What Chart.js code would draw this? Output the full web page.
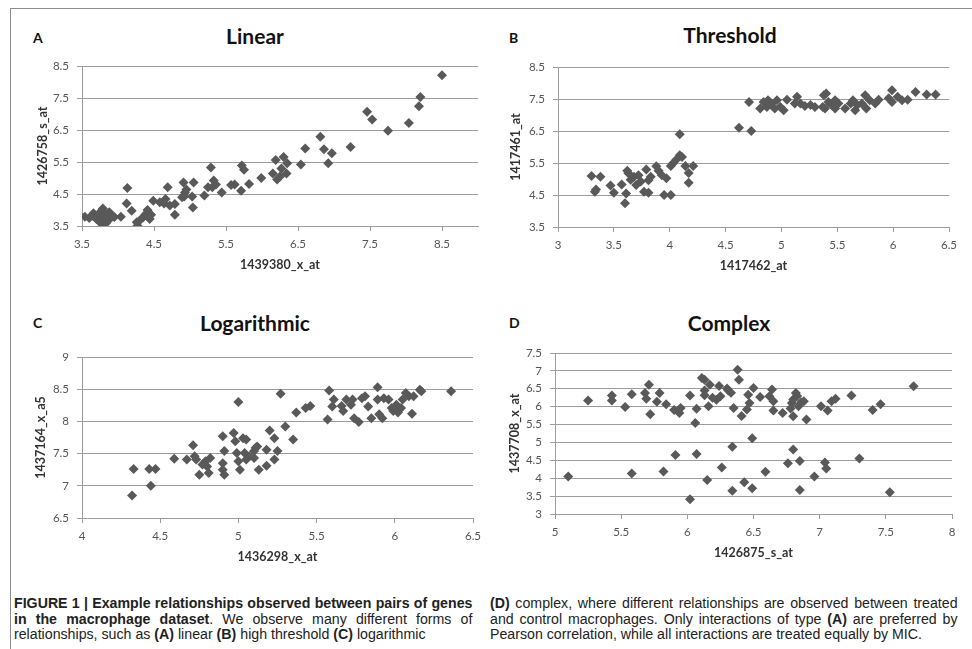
<!DOCTYPE html>
<html>
<head>
<meta charset="utf-8">
<script src="https://cdn.jsdelivr.net/npm/chart.js@4.4.1/dist/chart.umd.min.js"></script>
<style>
  html, body { margin: 0; padding: 0; background: #fff; }
  body { width: 972px; height: 649px; position: relative; overflow: hidden; font-family: Lato, "Liberation Sans", sans-serif; }
  .frame-top { position: absolute; left: 10px; top: 8px; width: 962px; border-top: 1px solid #8c8c8c; }
  .frame-left { position: absolute; left: 10px; top: 8px; height: 641px; border-left: 1px solid #8c8c8c; }
  canvas { position: absolute; }
  .letter { position: absolute; font: bold 14px Lato, sans-serif; color: #111; line-height: 16px; }
  .ptitle { position: absolute; width: 240px; text-align: center; font: bold 21px Lato, sans-serif; color: #111; line-height: 24px; }
  /* caption set in a condensed face: regular sans squeezed horizontally */
  .cap { position: absolute; font-family: "Liberation Sans", Arial, sans-serif; font-size: 15.5px; color: #222; line-height: 15.5px; white-space: nowrap; transform: scaleX(0.915); transform-origin: 0 0; }
  .cap div { height: 15.5px; }
  .just { text-align: justify; text-align-last: justify; }
</style>
</head>
<body>
<div class="frame-top"></div>
<div class="frame-left"></div>

<div class="letter" style="left:33px; top:30px;">A</div>
<div class="ptitle" style="left:135px; top:24px;">Linear</div>
<canvas id="chartA" width="478" height="290" style="left:12px; top:10px;"></canvas>

<div class="letter" style="left:509px; top:30px;">B</div>
<div class="ptitle" style="left:610px; top:23px;">Threshold</div>
<canvas id="chartB" width="480" height="290" style="left:492px; top:10px;"></canvas>

<div class="letter" style="left:33px; top:315px;">C</div>
<div class="ptitle" style="left:135px; top:311px;">Logarithmic</div>
<canvas id="chartC" width="478" height="290" style="left:12px; top:300px;"></canvas>

<div class="letter" style="left:509px; top:315px;">D</div>
<div class="ptitle" style="left:609px; top:311px;">Complex</div>
<canvas id="chartD" width="480" height="290" style="left:492px; top:300px;"></canvas>

<div class="cap" style="left:14px; top:595px; width:501px;">
  <div class="just"><b>FIGURE 1 | Example relationships observed between pairs of genes</b></div>
  <div class="just"><b>in the macrophage dataset</b>. We observe many different forms of</div>
  <div>relationships, such as <b>(A)</b> linear <b>(B)</b> high threshold <b>(C)</b> logarithmic</div>
</div>
<div class="cap" style="left:490px; top:595px; width:511px;">
  <div class="just"><b>(D)</b> complex, where different relationships are observed between treated</div>
  <div class="just">and control macrophages. Only interactions of type <b>(A)</b> are preferred by</div>
  <div>Pearson correlation, while all interactions are treated equally by MIC.</div>
</div>

<script>
// ---- Panel A: linear relationship ----
const linearX = [3.54,3.60,3.65,3.66,3.70,3.71,3.73,3.76,3.77,3.79,3.80,3.82,3.79,3.84,3.86,3.87,3.88,3.91,3.83,3.74,3.95,4.04,
  4.13,4.12,4.19,4.27,4.26,4.30,4.35,4.38,4.42,4.44,4.41,4.46,4.49,4.58,4.64,4.69,4.66,4.72,4.79,4.79,
  4.91,4.93,4.89,4.95,4.92,5.05,5.04,5.03,5.20,5.29,5.33,5.31,5.25,5.36,5.44,5.57,5.62,5.72,5.75,5.71,5.82,
  5.99,6.15,6.19,6.21,6.27,6.30,6.35,6.34,6.25,6.54,6.60,6.81,6.86,6.97,6.92,7.23,7.46,7.53,7.75,8.04,8.18,8.20,8.50];
const linearY = [3.79,3.75,3.82,3.90,3.72,3.80,3.67,3.60,3.98,4.05,3.69,3.77,3.51,3.60,3.67,3.90,3.93,3.77,3.85,3.88,3.78,3.79,
  4.69,4.20,3.98,3.51,3.62,3.67,3.77,3.86,3.93,3.72,4.00,3.85,4.29,4.24,4.20,4.71,4.34,4.14,3.85,4.19,
  4.86,4.55,4.40,4.64,4.42,4.86,4.08,4.42,4.45,5.33,4.92,4.71,4.71,4.80,4.55,4.78,4.80,5.39,5.26,4.60,4.81,
  5.00,5.14,5.56,4.95,5.30,5.66,5.46,5.14,5.05,5.42,5.92,6.29,5.90,5.77,5.46,5.97,7.07,6.83,6.48,6.72,7.24,7.53,8.21];
const linearXTicks = [3.5, 4.5, 5.5, 6.5, 7.5, 8.5];
const linearYTicks = [3.5, 4.5, 5.5, 6.5, 7.5, 8.5];

// ---- Panel B: threshold relationship ----
const thresholdX = [3.30,3.38,3.33,3.34,3.47,3.50,3.60,3.57,3.61,3.62,3.65,3.68,3.70,3.72,3.77,3.79,3.81,3.81,3.83,3.88,3.90,3.93,3.95,3.97,
  4.01,4.01,4.03,4.06,4.09,4.11,4.09,4.14,4.17,4.17,4.21,3.63,3.74,
  4.62,4.73,4.71,4.81,4.84,4.87,4.91,4.94,4.96,4.99,5.02,5.05,5.14,5.17,5.21,5.26,5.30,5.38,5.39,5.42,5.45,5.48,5.51,
  5.57,5.62,5.64,5.68,5.72,5.75,5.76,5.79,5.84,5.87,5.99,5.99,6.04,6.08,6.13,6.20,6.30,6.38,5.37,5.40,5.12,4.88,5.96,5.48,5.66];
const thresholdY = [5.09,5.07,4.60,4.67,4.80,4.57,4.24,4.83,4.55,5.26,4.98,5.07,4.81,5.12,4.60,5.30,4.57,4.96,5.07,5.40,5.26,5.12,4.50,5.02,
  4.50,5.41,5.49,5.61,5.74,5.69,6.40,5.41,5.19,4.88,5.41,5.18,4.92,
  6.60,6.50,7.41,7.20,7.41,7.25,7.36,7.20,7.46,7.25,7.15,7.48,7.57,7.36,7.28,7.31,7.25,7.62,7.20,7.41,7.31,7.20,7.36,
  7.20,7.36,7.46,7.31,7.36,7.62,7.20,7.46,7.36,7.48,7.77,7.41,7.57,7.46,7.48,7.72,7.64,7.64,7.25,7.67,7.36,7.46,7.52,7.46,7.15];
const thresholdXTicks = [3, 3.5, 4, 4.5, 5, 5.5, 6, 6.5];
const thresholdYTicks = [3.5, 4.5, 5.5, 6.5, 7.5, 8.5];

// ---- Panel C: logarithmic relationship ----
const logX = [4.32,4.33,4.43,4.44,4.47,4.59,4.67,4.71,4.72,4.73,4.75,4.77,4.79,4.80,4.81,4.82,
  4.90,4.91,4.90,4.90,4.91,4.97,4.98,5.00,4.99,5.00,5.01,5.03,5.05,5.04,5.05,5.07,5.10,5.11,5.12,5.13,5.10,
  5.18,5.18,5.20,5.23,5.23,5.25,5.27,5.30,5.35,5.37,5.43,5.46,5.57,5.58,5.60,5.61,
  5.66,5.67,5.69,5.72,5.73,5.74,5.77,5.79,5.81,5.83,5.85,5.89,5.89,5.90,5.92,5.93,5.96,
  5.98,5.99,6.01,6.02,6.04,6.05,6.07,6.09,6.11,6.12,6.16,6.17,6.36];
const logY = [6.85,7.26,7.26,7.00,7.26,7.42,7.41,7.63,7.46,7.41,7.17,7.33,7.38,7.30,7.20,7.43,
  7.77,7.54,7.35,7.25,7.17,7.82,7.69,8.30,7.51,7.38,7.25,7.74,7.72,7.51,7.41,7.46,7.54,7.59,7.61,7.25,7.43,
  7.31,7.56,7.86,7.74,7.41,7.54,8.43,7.92,7.72,8.14,8.21,8.24,8.03,8.48,8.23,8.34,
  8.24,8.16,8.34,8.26,8.34,8.05,7.99,8.36,8.39,8.23,8.05,8.53,8.34,8.11,8.05,8.36,8.34,
  8.21,8.16,8.26,8.14,8.21,8.34,8.44,8.39,8.12,8.39,8.49,8.47,8.47];
const logXTicks = [4, 4.5, 5, 5.5, 6, 6.5];
const logYTicks = [6.5, 7, 7.5, 8, 8.5, 9];

// ---- Panel D: complex relationship ----
const complexX = [5.10,5.25,5.43,5.43,5.53,5.58,5.58,5.68,5.69,5.71,5.72,5.77,5.79,5.82,5.84,5.90,5.91,5.94,5.95,
  6.02,6.02,6.06,6.07,6.07,6.11,6.13,6.13,6.13,6.17,6.16,6.19,6.15,6.22,6.24,6.25,6.26,6.30,6.31,6.33,6.34,6.34,6.35,
  6.38,6.39,6.41,6.43,6.45,6.46,6.47,6.49,6.49,6.50,6.55,6.59,6.62,6.64,6.65,6.65,
  6.72,6.76,6.79,6.80,6.80,6.82,6.84,6.85,6.85,6.88,6.90,6.80,6.83,6.78,6.86,
  6.96,7.01,7.04,7.05,7.06,7.09,7.12,7.24,7.30,7.40,7.46,7.53,7.71];
const complexY = [4.05,6.17,6.31,6.17,5.99,4.13,6.35,6.38,6.22,6.61,5.79,6.14,6.38,4.19,6.07,5.91,4.65,5.82,5.96,
  6.31,3.41,5.54,4.68,5.94,6.80,6.75,6.45,6.32,6.61,6.01,6.25,3.95,6.19,6.58,6.29,4.30,6.51,6.45,6.39,3.65,4.88,5.96,
  7.03,6.75,5.74,3.89,5.92,6.33,6.10,3.72,5.12,6.52,6.27,4.18,6.29,6.48,6.15,5.89,
  5.82,4.42,6.10,5.73,4.80,6.38,6.01,4.48,3.67,6.15,5.64,6.20,6.30,5.95,6.12,
  4.05,6.01,4.44,4.27,5.89,6.15,6.22,6.31,4.55,5.91,6.07,3.61,6.57];
const complexXTicks = [5, 5.5, 6, 6.5, 7, 7.5, 8];
const complexYTicks = [3, 3.5, 4, 4.5, 5, 5.5, 6, 6.5, 7, 7.5];

// ---- shared styling ----
const FONT = 'Lato, "Liberation Sans", sans-serif';
const GRID = '#9c9c9c';

function scatterPanel(id, xs, ys, cfg) {
  const points = xs.map((x, i) => ({ x: x, y: ys[i] }));
  return new Chart(document.getElementById(id), {
    type: 'scatter',
    data: {
      datasets: [{
        data: points,
        pointStyle: 'rectRot',
        radius: 5,
        hoverRadius: 5,
        backgroundColor: '#595959',
        borderColor: '#595959',
        borderWidth: 0
      }]
    },
    options: {
      responsive: false,
      maintainAspectRatio: false,
      animation: false,
      events: [],
      layout: { padding: { left: 0, top: cfg.padTop, right: cfg.padRight, bottom: cfg.padBottom } },
      plugins: { legend: { display: false }, tooltip: { enabled: false } },
      scales: {
        x: {
          type: 'linear',
          position: 'bottom',
          min: cfg.xTicks[0],
          max: cfg.xMax,
          afterBuildTicks: s => { s.ticks = cfg.xTicks.map(v => ({ value: v })); },
          afterFit: s => { s.height = 52; },
          grid: { drawOnChartArea: false, drawTicks: true, tickLength: 5, color: GRID, lineWidth: 1 },
          border: { display: true, color: GRID, width: 1 },
          ticks: {
            autoSkip: false, maxRotation: 0, padding: 6, color: '#555',
            font: { family: FONT, size: 11.5 },
            callback: v => String(v)
          },
          title: {
            display: true, text: cfg.xTitle, color: '#333',
            font: { family: FONT, size: 12.5, weight: 'bold' },
            padding: { top: 0, bottom: 6 }
          }
        },
        y: {
          type: 'linear',
          min: cfg.yTicks[0],
          max: cfg.yTicks[cfg.yTicks.length - 1],
          afterBuildTicks: s => { s.ticks = cfg.yTicks.map(v => ({ value: v })); },
          afterFit: s => { s.width = cfg.yWidth; },
          grid: { drawOnChartArea: true, drawTicks: true, tickLength: 5, color: GRID, lineWidth: 1 },
          border: { display: true, color: GRID, width: 1 },
          ticks: {
            autoSkip: false, padding: 8, color: '#555',
            font: { family: FONT, size: 11.5 },
            callback: v => String(v)
          },
          title: {
            display: true, text: cfg.yTitle, color: '#333',
            font: { family: FONT, size: 12.5, weight: 'bold' },
            padding: { top: cfg.yTitlePad, bottom: 0 }
          }
        }
      }
    }
  });
}

scatterPanel('chartA', linearX, linearY, {
  xTicks: linearXTicks, xMax: 9, yTicks: linearYTicks,
  xTitle: '1439380_x_at', yTitle: '1426758_s_at',
  padTop: 56, padRight: 12, padBottom: 22, yWidth: 70, yTitlePad: 23
});
scatterPanel('chartB', thresholdX, thresholdY, {
  xTicks: thresholdXTicks, xMax: 6.5, yTicks: thresholdYTicks,
  xTitle: '1417462_at', yTitle: '1417461_at',
  padTop: 57, padRight: 23, padBottom: 21, yWidth: 66, yTitlePad: 16
});
scatterPanel('chartC', logX, logY, {
  xTicks: logXTicks, xMax: 6.5, yTicks: logYTicks,
  xTitle: '1436298_x_at', yTitle: '1437164_x_a5',
  padTop: 57, padRight: 17, padBottom: 20, yWidth: 70, yTitlePad: 21
});
scatterPanel('chartD', complexX, complexY, {
  xTicks: complexXTicks, xMax: 8, yTicks: complexYTicks,
  xTitle: '1426875_s_at', yTitle: '1437708_x_at',
  padTop: 53, padRight: 20, padBottom: 24, yWidth: 63, yTitlePad: 15
});
</script>
</body>
</html>
